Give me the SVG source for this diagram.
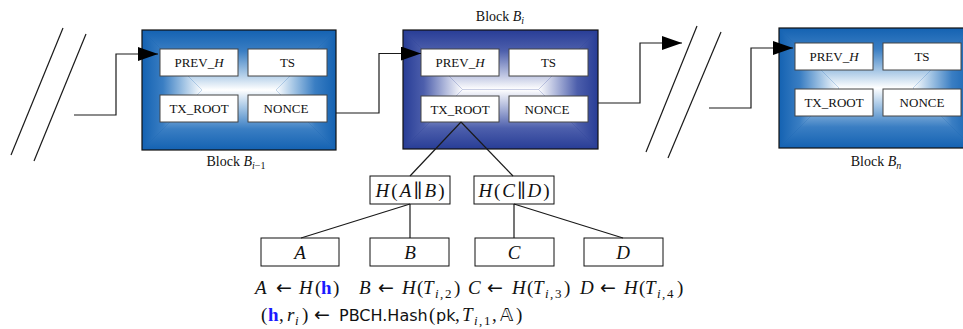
<svg xmlns="http://www.w3.org/2000/svg" width="963" height="329" viewBox="0 0 963 329">
<defs>
<linearGradient id="aT" x1="0" y1="0" x2="0" y2="1"><stop offset="0" stop-color="#1462b2"/><stop offset="0.35" stop-color="#3a7ec3"/><stop offset="0.7" stop-color="#a2c4e4"/><stop offset="1" stop-color="#ffffff"/></linearGradient>
<linearGradient id="aB" x1="0" y1="1" x2="0" y2="0"><stop offset="0" stop-color="#1462b2"/><stop offset="0.35" stop-color="#3a7ec3"/><stop offset="0.7" stop-color="#a2c4e4"/><stop offset="1" stop-color="#ffffff"/></linearGradient>
<linearGradient id="aL" x1="0" y1="0" x2="1" y2="0"><stop offset="0" stop-color="#1462b2"/><stop offset="0.35" stop-color="#3a7ec3"/><stop offset="0.7" stop-color="#a2c4e4"/><stop offset="1" stop-color="#ffffff"/></linearGradient>
<linearGradient id="aR" x1="1" y1="0" x2="0" y2="0"><stop offset="0" stop-color="#1462b2"/><stop offset="0.35" stop-color="#3a7ec3"/><stop offset="0.7" stop-color="#a2c4e4"/><stop offset="1" stop-color="#ffffff"/></linearGradient>
<linearGradient id="bT" x1="0" y1="0" x2="0" y2="1"><stop offset="0" stop-color="#283d96"/><stop offset="0.35" stop-color="#4d5fac"/><stop offset="0.7" stop-color="#adb6da"/><stop offset="1" stop-color="#ffffff"/></linearGradient>
<linearGradient id="bB" x1="0" y1="1" x2="0" y2="0"><stop offset="0" stop-color="#283d96"/><stop offset="0.35" stop-color="#4d5fac"/><stop offset="0.7" stop-color="#adb6da"/><stop offset="1" stop-color="#ffffff"/></linearGradient>
<linearGradient id="bL" x1="0" y1="0" x2="1" y2="0"><stop offset="0" stop-color="#283d96"/><stop offset="0.35" stop-color="#4d5fac"/><stop offset="0.7" stop-color="#adb6da"/><stop offset="1" stop-color="#ffffff"/></linearGradient>
<linearGradient id="bR" x1="1" y1="0" x2="0" y2="0"><stop offset="0" stop-color="#283d96"/><stop offset="0.35" stop-color="#4d5fac"/><stop offset="0.7" stop-color="#adb6da"/><stop offset="1" stop-color="#ffffff"/></linearGradient>
<marker id="arr" markerUnits="userSpaceOnUse" markerWidth="20" markerHeight="14" refX="20" refY="7" orient="auto"><path d="M0,0 L20,7 L0,14 z" fill="#000"/></marker>
</defs>
<style>
.frame{fill:none;stroke:#111;stroke-width:1.2}
.field{fill:#fff;stroke:#444;stroke-width:1}
.ft{font-family:"Liberation Serif","DejaVu Serif",serif;font-size:13px;fill:#111;text-anchor:middle}
.lbl{font-family:"Liberation Serif","DejaVu Serif",serif;font-size:14px;fill:#111}
.box{fill:#fff;stroke:#111;stroke-width:1}
.m{font-family:"Liberation Serif","DejaVu Serif",serif;font-size:19px;fill:#111}
.i{font-style:italic}
.s{font-size:13px}
.hb{font-weight:bold;fill:#1a1aff;font-style:normal}
.sf{font-family:"DejaVu Sans","Liberation Sans",sans-serif;font-size:16px}
.ar{font-family:"DejaVu Sans",sans-serif;font-size:19px}
.ln{fill:none;stroke:#1a1a1a;stroke-width:1.2}
</style>

<g id="block-prev">
<rect x="142" y="30" width="194" height="120" fill="#1462b2"/>
<polygon points="142,30 336,30 276,90 202,90" fill="url(#aT)"/>
<polygon points="142,150 336,150 276,90 202,90" fill="url(#aB)"/>
<polygon points="142,30 202,90 142,150" fill="url(#aL)"/>
<polygon points="336,30 276,90 336,150" fill="url(#aR)"/>
<rect class="frame" x="142" y="30" width="194" height="120"/>
<rect class="field" x="160" y="49" width="78" height="27"/>
<rect class="field" x="248" y="49" width="79" height="27"/>
<rect class="field" x="160" y="95" width="78" height="27"/>
<rect class="field" x="248" y="95" width="79" height="27"/>
<text class="ft" x="199" y="67">PREV_<tspan class="i">H</tspan></text>
<text class="ft" x="287.5" y="67">TS</text>
<text class="ft" x="199" y="113">TX_ROOT</text>
<text class="ft" x="286" y="113">NONCE</text>
<text class="lbl" x="236" y="166" text-anchor="middle">Block <tspan class="i">B</tspan><tspan class="i" font-size="10" dy="3">i</tspan><tspan font-size="10">−1</tspan></text>
</g>

<g id="block-i">
<rect x="403" y="30" width="195" height="119" fill="#283d96"/>
<polygon points="403,30 598,30 538.5,89.5 462.5,89.5" fill="url(#bT)"/>
<polygon points="403,149 598,149 538.5,89.5 462.5,89.5" fill="url(#bB)"/>
<polygon points="403,30 462.5,89.5 403,149" fill="url(#bL)"/>
<polygon points="598,30 538.5,89.5 598,149" fill="url(#bR)"/>
<rect class="frame" x="403" y="30" width="195" height="119"/>
<rect class="field" x="421" y="49" width="78" height="27"/>
<rect class="field" x="509" y="49" width="79" height="27"/>
<rect class="field" x="421" y="96" width="78" height="26"/>
<rect class="field" x="509" y="96" width="79" height="26"/>
<text class="ft" x="460" y="67">PREV_<tspan class="i">H</tspan></text>
<text class="ft" x="548.5" y="67">TS</text>
<text class="ft" x="460" y="114">TX_ROOT</text>
<text class="ft" x="547" y="114">NONCE</text>
<text class="lbl" x="500" y="21" text-anchor="middle">Block <tspan class="i">B</tspan><tspan class="i" font-size="10" dy="3">i</tspan></text>
</g>

<g id="block-n">
<rect x="779" y="28" width="194" height="120" fill="#1462b2"/>
<polygon points="779,28 973,28 913,88 839,88" fill="url(#aT)"/>
<polygon points="779,148 973,148 913,88 839,88" fill="url(#aB)"/>
<polygon points="779,28 839,88 779,148" fill="url(#aL)"/>
<polygon points="973,28 913,88 973,148" fill="url(#aR)"/>
<rect class="frame" x="779" y="28" width="194" height="120"/>
<rect class="field" x="795" y="43" width="78" height="27"/>
<rect class="field" x="883" y="43" width="78" height="27"/>
<rect class="field" x="795" y="89" width="78" height="27"/>
<rect class="field" x="883" y="89" width="78" height="27"/>
<text class="ft" x="834" y="61">PREV_<tspan class="i">H</tspan></text>
<text class="ft" x="922" y="61">TS</text>
<text class="ft" x="834" y="107">TX_ROOT</text>
<text class="ft" x="922" y="107">NONCE</text>
<text class="lbl" x="876" y="166" text-anchor="middle">Block <tspan class="i">B</tspan><tspan class="i" font-size="10" dy="3">n</tspan></text>
</g>

<g id="node-hab">
<rect class="box" x="370" y="176" width="80" height="28"/>
<text class="m" x="410" y="197" text-anchor="middle" textLength="69"><tspan class="i">H</tspan>(<tspan class="i">A</tspan>∥<tspan class="i">B</tspan>)</text>
</g>
<g id="node-hcd">
<rect class="box" x="474" y="176" width="80" height="28"/>
<text class="m" x="514" y="197" text-anchor="middle" textLength="71"><tspan class="i">H</tspan>(<tspan class="i">C</tspan>∥<tspan class="i">D</tspan>)</text>
</g>
<g id="node-a"><rect class="box" x="261" y="238" width="78" height="28"/><text class="m i" x="300" y="259" text-anchor="middle">A</text></g>
<g id="node-b"><rect class="box" x="370" y="238" width="79" height="28"/><text class="m i" x="410" y="259" text-anchor="middle">B</text></g>
<g id="node-c"><rect class="box" x="475" y="238" width="79" height="28"/><text class="m i" x="514" y="259" text-anchor="middle">C</text></g>
<g id="node-d"><rect class="box" x="584" y="238" width="79" height="28"/><text class="m i" x="623" y="259" text-anchor="middle">D</text></g>

<g id="connectors">
<line class="ln" x1="63" y1="28" x2="11" y2="155"/>
<line class="ln" x1="86" y1="34" x2="34" y2="161"/>
<line class="ln" x1="697" y1="26" x2="646" y2="152"/>
<line class="ln" x1="721" y1="32" x2="668" y2="158"/>
<path class="ln" d="M74,115 H116 V54 H158" marker-end="url(#arr)"/>
<path class="ln" d="M336,113 H379 V53.5 H421" marker-end="url(#arr)"/>
<path class="ln" d="M598,103 H640 V43 H682" marker-end="url(#arr)"/>
<path class="ln" d="M709,108 H751 V48 H793" marker-end="url(#arr)"/>
<line class="ln" x1="461" y1="122" x2="410" y2="176"/>
<line class="ln" x1="461" y1="122" x2="513" y2="176"/>
<line class="ln" x1="410" y1="204" x2="301" y2="238"/>
<line class="ln" x1="410" y1="204" x2="410" y2="238"/>
<line class="ln" x1="514" y1="204" x2="514" y2="238"/>
<line class="ln" x1="514" y1="204" x2="623" y2="238"/>
</g>

<g id="labels">
<text class="m" y="294"><tspan class="i" x="255">A</tspan><tspan class="ar" x="276">←</tspan><tspan class="i" x="299">H</tspan><tspan x="315">(</tspan><tspan class="hb" x="321">h</tspan><tspan x="333">)</tspan></text>
<text class="m" y="294"><tspan class="i" x="359">B</tspan><tspan class="ar" x="378">←</tspan><tspan class="i" x="402">H</tspan><tspan x="417">(</tspan><tspan class="i" x="423">T</tspan><tspan class="i s" x="435" dy="4">i</tspan><tspan class="s" x="440">,</tspan><tspan class="s" x="445">2</tspan><tspan x="454" dy="-4">)</tspan></text>
<text class="m" y="294"><tspan class="i" x="468">C</tspan><tspan class="ar" x="487">←</tspan><tspan class="i" x="512">H</tspan><tspan x="527">(</tspan><tspan class="i" x="533">T</tspan><tspan class="i s" x="545" dy="4">i</tspan><tspan class="s" x="550">,</tspan><tspan class="s" x="555">3</tspan><tspan x="564" dy="-4">)</tspan></text>
<text class="m" y="294"><tspan class="i" x="580">D</tspan><tspan class="ar" x="600">←</tspan><tspan class="i" x="624">H</tspan><tspan x="639">(</tspan><tspan class="i" x="645">T</tspan><tspan class="i s" x="657" dy="4">i</tspan><tspan class="s" x="662">,</tspan><tspan class="s" x="667">4</tspan><tspan x="677" dy="-4">)</tspan></text>
<text class="m" y="321"><tspan x="261">(</tspan><tspan class="hb" x="268">h</tspan><tspan x="279">,</tspan><tspan class="i" x="287">r</tspan><tspan class="i s" x="295" dy="4">i</tspan><tspan x="302" dy="-4">)</tspan><tspan class="ar" x="314">←</tspan><tspan class="sf" x="339">PBCH.Hash</tspan><tspan x="429">(</tspan><tspan class="sf" x="436">pk</tspan><tspan x="455">,</tspan><tspan class="i" x="462">T</tspan><tspan class="i s" x="474" dy="4">i</tspan><tspan class="s" x="479">,</tspan><tspan class="s" x="484">1</tspan><tspan x="492" dy="-4">,</tspan><tspan font-family="DejaVu Sans, sans-serif" font-size="18" x="500">𝔸</tspan><tspan x="516">)</tspan></text>
</g>
</svg>
